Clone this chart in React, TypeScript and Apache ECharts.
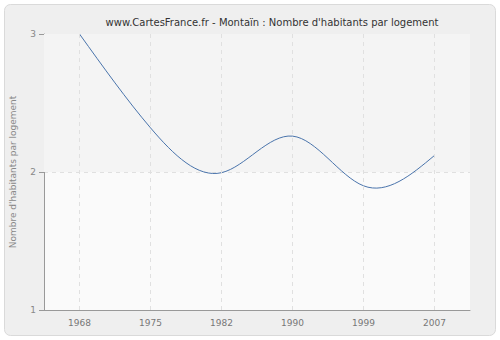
import React, { useEffect, useRef } from "react";
import * as echarts from "echarts";

const years = ["1968", "1975", "1982", "1990", "1999", "2007"];
const values = [3.0, 2.32, 1.995, 2.26, 1.9, 2.12];
const yTicks = [1, 2, 3];

function splineSlopes(xs: number[], ys: number[]): number[] {
  const n = xs.length;
  const h: number[] = [];
  for (let i = 0; i < n - 1; i++) h.push(xs[i + 1] - xs[i]);
  // natural cubic spline: solve for second derivatives M
  const a: number[] = new Array(n).fill(0);
  const b: number[] = new Array(n).fill(0);
  const c: number[] = new Array(n).fill(0);
  const d: number[] = new Array(n).fill(0);
  b[0] = 1; b[n - 1] = 1;
  for (let i = 1; i < n - 1; i++) {
    a[i] = h[i - 1];
    b[i] = 2 * (h[i - 1] + h[i]);
    c[i] = h[i];
    d[i] = 6 * ((ys[i + 1] - ys[i]) / h[i] - (ys[i] - ys[i - 1]) / h[i - 1]);
  }
  for (let i = 1; i < n; i++) {
    const m = a[i] / b[i - 1];
    b[i] -= m * c[i - 1];
    d[i] -= m * d[i - 1];
  }
  const M: number[] = new Array(n).fill(0);
  M[n - 1] = d[n - 1] / b[n - 1];
  for (let i = n - 2; i >= 0; i--) M[i] = (d[i] - c[i] * M[i + 1]) / b[i];
  const s: number[] = [];
  for (let i = 0; i < n; i++) {
    if (i < n - 1) {
      s.push((ys[i + 1] - ys[i]) / h[i] - (h[i] * (2 * M[i] + M[i + 1])) / 6);
    } else {
      s.push((ys[i] - ys[i - 1]) / h[i - 1] + (h[i - 1] * (M[i - 1] + 2 * M[i])) / 6);
    }
  }
  return s;
}

export default function App() {
  const ref = useRef<HTMLDivElement>(null);
  useEffect(() => {
    if (!ref.current) return;
    const chart = echarts.init(ref.current, undefined, { renderer: "svg" });
    const dash = { color: "#e0e0e0", type: [4, 4] as number[], width: 1 };
    chart.setOption({
      animation: false,
      backgroundColor: "#ffffff",
      graphic: [
        {
          type: "rect",
          shape: { x: 4.5, y: 4.5, width: 491, height: 331, r: 6 },
          style: { fill: "#efefef", stroke: "#dadada", lineWidth: 1 },
          z: -10,
        },
      ],
      title: {
        text: "www.CartesFrance.fr - Montaïn : Nombre d'habitants par logement",
        left: 267,
        textAlign: "center",
        top: 12,
        textStyle: { fontFamily: "DejaVu Sans", fontSize: 10, fontWeight: "normal", color: "#333" },
      },
      grid: {
        left: 41,
        right: 30,
        top: 34,
        bottom: 30,
        show: true,
        backgroundColor: "#fafafa",
        borderWidth: 0,
      },
      xAxis: {
        type: "category",
        data: years,
        boundaryGap: true,
        axisLine: { lineStyle: { color: "#999" } },
        axisTick: { alignWithLabel: true, length: 5, lineStyle: { color: "#999" } },
        axisLabel: { fontFamily: "DejaVu Sans", fontSize: 9, color: "#777", margin: 8 },
        splitLine: { show: false },
      },
      yAxis: {
        type: "value",
        min: yTicks[0],
        max: yTicks[yTicks.length - 1],
        interval: 1,
        name: "Nombre d'habitants par logement",
        nameLocation: "middle",
        nameGap: 27,
        nameTextStyle: { fontFamily: "DejaVu Sans", fontSize: 9, color: "#888" },
        axisLine: { show: true, lineStyle: { color: "#999" } },
        axisTick: { show: true, length: 5, lineStyle: { color: "#999" } },
        axisLabel: { fontFamily: "DejaVu Sans", fontSize: 9, color: "#888", margin: 8 },
        splitLine: { show: true, lineStyle: dash },
      },
      series: [
        {
          type: "line",
          data: values,
          symbol: "none",
          lineStyle: { opacity: 0 },
          silent: true,
          markArea: {
            silent: true,
            itemStyle: { color: "#f4f4f4" },
            data: [[{ yAxis: 2 }, { yAxis: 3 }]],
          },
          markLine: {
            silent: true,
            symbol: "none",
            label: { show: false },
            lineStyle: dash,
            data: years.map((y) => ({ xAxis: y })),
          },
        },
        {
          type: "custom",
          data: values.map((v, i) => [i, v]),
          renderItem: (params: any, api: any) => {
            const i = params.dataIndex;
            if (i >= values.length - 1) return null;
            const pts = values.map((v, k) => api.coord([k, v]));
            const xs = pts.map((p: number[]) => p[0]);
            const ys = pts.map((p: number[]) => p[1]);
            const s = splineSlopes(xs, ys);
            const h = xs[i + 1] - xs[i];
            return {
              type: "bezierCurve",
              shape: {
                x1: xs[i],
                y1: ys[i],
                cpx1: xs[i] + h / 3,
                cpy1: ys[i] + (s[i] * h) / 3,
                cpx2: xs[i + 1] - h / 3,
                cpy2: ys[i + 1] - (s[i + 1] * h) / 3,
                x2: xs[i + 1],
                y2: ys[i + 1],
              },
              style: { stroke: "#4a74ac", lineWidth: 1, fill: "none" },
            };
          },
        },
      ],
    });
    return () => chart.dispose();
  }, []);
  return (
    <div
      ref={ref}
      style={{ position: "fixed", left: 0, top: 0, width: 500, height: 340 }}
    />
  );
}
